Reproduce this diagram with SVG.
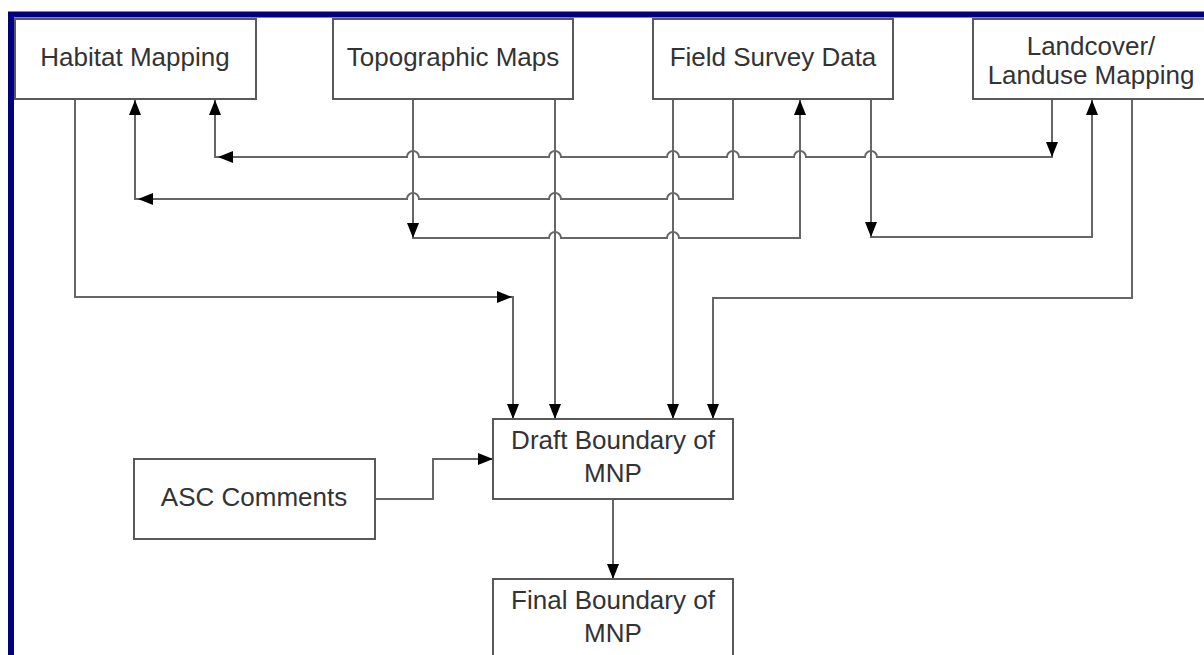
<svg xmlns="http://www.w3.org/2000/svg" xmlns:xlink="http://www.w3.org/1999/xlink" width="1204" height="655" viewBox="0 0 1204 655">
<style>
.box{fill:#fff;stroke:#595959;stroke-width:2}
.lbl{font-family:"Liberation Sans",Arial,sans-serif;font-size:26px;fill:#333;text-anchor:middle}
.con{fill:none;stroke:#666;stroke-width:2}
.ah{fill:#000}
</style>
<defs>
<path id="ah" d="M0,0 L-15,-6 L-15,6 Z"/>
</defs>
<rect x="0" y="0" width="1204" height="655" fill="#fff"/>
<rect x="11" y="14.5" width="1300" height="800" fill="none" stroke="#000080" stroke-width="6"/>

<g id="connectors">
<path class="con" d="M75,99 V297 H513 V419"/>
<path class="con" d="M555,99 V419"/>
<path class="con" d="M673,99 V419"/>
<path class="con" d="M1132,99 V298 H713 V419"/>
<path class="con" d="M1052,99 V157 H877 A6,6 0 0 0 865,157 H806 A6,6 0 0 0 794,157 H739 A6,6 0 0 0 727,157 H679 A6,6 0 0 0 667,157 H561 A6,6 0 0 0 549,157 H419 A6,6 0 0 0 407,157 H215 V99"/>
<path class="con" d="M733,99 V199 H679 A6,6 0 0 0 667,199 H561 A6,6 0 0 0 549,199 H419 A6,6 0 0 0 407,199 H135 V99"/>
<path class="con" d="M413,99 V238 H549 A6,6 0 0 1 561,238 H667 A6,6 0 0 1 679,238 H800 V99"/>
<path class="con" d="M871,99 V237 H1092 V99"/>
<path class="con" d="M375,499 H433 V459 H493"/>
<path class="con" d="M613,499 V579"/>
<use class="ah" xlink:href="#ah" transform="translate(512,297)"/>
<use class="ah" xlink:href="#ah" transform="translate(513,419) rotate(90)"/>
<use class="ah" xlink:href="#ah" transform="translate(555,419) rotate(90)"/>
<use class="ah" xlink:href="#ah" transform="translate(673,419) rotate(90)"/>
<use class="ah" xlink:href="#ah" transform="translate(713,419) rotate(90)"/>
<use class="ah" xlink:href="#ah" transform="translate(1052,157) rotate(90)"/>
<use class="ah" xlink:href="#ah" transform="translate(218,157) rotate(180)"/>
<use class="ah" xlink:href="#ah" transform="translate(215,100) rotate(-90)"/>
<use class="ah" xlink:href="#ah" transform="translate(138,199) rotate(180)"/>
<use class="ah" xlink:href="#ah" transform="translate(135,100) rotate(-90)"/>
<use class="ah" xlink:href="#ah" transform="translate(413,238) rotate(90)"/>
<use class="ah" xlink:href="#ah" transform="translate(800,100) rotate(-90)"/>
<use class="ah" xlink:href="#ah" transform="translate(871,237) rotate(90)"/>
<use class="ah" xlink:href="#ah" transform="translate(1092,100) rotate(-90)"/>
<use class="ah" xlink:href="#ah" transform="translate(493,459)"/>
<use class="ah" xlink:href="#ah" transform="translate(613,579) rotate(90)"/>
</g>

<g id="habitat">
<rect class="box" x="15" y="19" width="241" height="80"/>
<text class="lbl" x="135" y="66">Habitat Mapping</text>
</g>
<g id="topographic">
<rect class="box" x="333" y="19" width="240" height="80"/>
<text class="lbl" x="453" y="66">Topographic Maps</text>
</g>
<g id="fieldsurvey">
<rect class="box" x="653" y="19" width="240" height="80"/>
<text class="lbl" x="773" y="66">Field Survey Data</text>
</g>
<g id="landcover">
<rect class="box" x="973" y="19" width="240" height="80"/>
<text class="lbl" x="1091" y="55">Landcover/</text>
<text class="lbl" x="1091" y="84">Landuse Mapping</text>
</g>
<g id="draft">
<rect class="box" x="493" y="419" width="240" height="80"/>
<text class="lbl" x="613" y="449">Draft Boundary of</text>
<text class="lbl" x="613" y="482">MNP</text>
</g>
<g id="asc">
<rect class="box" x="134" y="459" width="241" height="80"/>
<text class="lbl" x="254" y="506">ASC Comments</text>
</g>
<g id="final">
<rect class="box" x="493" y="579" width="240" height="90"/>
<text class="lbl" x="613" y="609">Final Boundary of</text>
<text class="lbl" x="613" y="642">MNP</text>
</g>
</svg>
